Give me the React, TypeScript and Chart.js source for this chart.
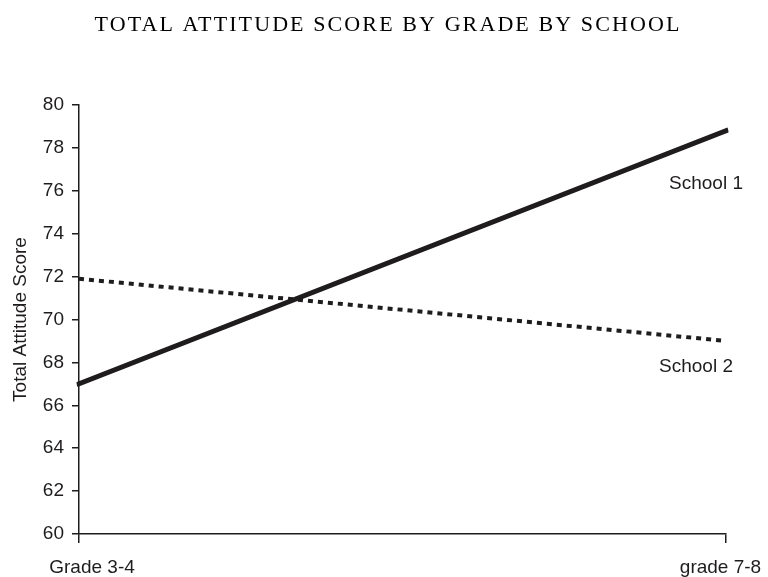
import React, { useEffect, useRef } from "react";
import { Chart, registerables } from "chart.js";

Chart.register(...registerables);

const TITLE = "TOTAL ATTITUDE SCORE BY GRADE BY SCHOOL";
const Y_TITLE = "Total Attitude Score";
const CATEGORIES = ["Grade 3-4", "grade 7-8"];
const SERIES_NAMES = ["School 1", "School 2"];
const SCHOOL1 = [67.0, 78.8];
const SCHOOL2 = [71.9, 69.0];
const Y_MIN = 60;
const Y_MAX = 80;
const Y_STEP = 2;

const INK = "#1f1c1d";
const SANS = "'Liberation Sans', Arial, Helvetica, sans-serif";
const SERIF = "'Liberation Serif', 'Times New Roman', serif";

// label style offsets (relative to the last data point of each series)
const SERIES_LABEL_OFFSETS = [
  { dx: 17, dy: 58 },
  { dx: 7, dy: 31 },
];
// x category label style offsets (relative to the tick pixel)
const X_LABEL_OFFSETS = [13, -5.5];

const textPlugin = {
  id: "customText",
  afterDraw(chart: any) {
    const ctx = chart.ctx as CanvasRenderingContext2D;
    const xScale = chart.scales.x;
    ctx.save();
    // title
    ctx.fillStyle = "#000";
    ctx.font = `22px ${SERIF}`;
    (ctx as any).letterSpacing = "2.1px";
    ctx.textAlign = "center";
    ctx.textBaseline = "alphabetic";
    ctx.fillText(TITLE, 388, 31);
    (ctx as any).letterSpacing = "0px";

    // x category labels
    ctx.fillStyle = INK;
    ctx.font = `19px ${SANS}`;
    ctx.textAlign = "center";
    CATEGORIES.forEach((c, i) => {
      const x = xScale.getPixelForValue(i) + X_LABEL_OFFSETS[i];
      ctx.fillText(c, x, 573);
    });

    // series labels
    ctx.textAlign = "right";
    SERIES_NAMES.forEach((name, i) => {
      const meta = chart.getDatasetMeta(i);
      const pt = meta.data[meta.data.length - 1];
      ctx.fillText(name, pt.x + SERIES_LABEL_OFFSETS[i].dx, pt.y + SERIES_LABEL_OFFSETS[i].dy);
    });
    ctx.restore();
  },
};

export default function App() {
  const ref = useRef<HTMLCanvasElement | null>(null);
  useEffect(() => {
    if (!ref.current) return;
    const chart = new Chart(ref.current, {
      type: "line",
      data: {
        labels: CATEGORIES,
        datasets: [
          {
            label: SERIES_NAMES[0],
            data: SCHOOL1,
            borderColor: INK,
            borderWidth: 5,
            pointRadius: 0,
            borderCapStyle: "square",
            tension: 0,
          },
          {
            label: SERIES_NAMES[1],
            data: SCHOOL2,
            borderColor: INK,
            borderWidth: 4,
            borderDash: [5, 5],
            pointRadius: 0,
            tension: 0,
          },
        ],
      },
      options: {
        animation: false,
        responsive: false,
        layout: { padding: { top: 105, right: 42, left: 0, bottom: 0 } },
        plugins: {
          legend: { display: false },
          title: { display: false },
          tooltip: { enabled: false },
        },
        scales: {
          x: {
            type: "category",
            offset: false,
            grid: {
              display: true,
              drawOnChartArea: false,
              drawTicks: true,
              tickLength: 9,
              color: INK,
              lineWidth: 1.5,
            },
            border: { display: true, color: INK, width: 1.5 },
            ticks: { display: false },
            afterFit: (s: any) => {
              s.height = 43;
            },
          },
          y: {
            min: Y_MIN,
            max: Y_MAX,
            grid: {
              display: true,
              drawOnChartArea: false,
              drawTicks: true,
              tickLength: 7,
              color: INK,
              lineWidth: 1.5,
            },
            border: { display: true, color: INK, width: 1.5 },
            ticks: {
              stepSize: Y_STEP,
              color: INK,
              padding: 8,
              font: { family: SANS, size: 19 },
            },
            title: {
              display: true,
              text: Y_TITLE,
              color: INK,
              font: { family: SANS, size: 19 },
              padding: { top: 9, bottom: 0 },
            },
            afterFit: (s: any) => {
              s.width = 79;
            },
          },
        },
      },
      plugins: [textPlugin],
    });
    return () => chart.destroy();
  }, []);
  return (
    <div style={{ position: "fixed", left: 0, top: 0, width: 768, height: 577, background: "#fff" }}>
      <canvas ref={ref} width={768} height={577} style={{ display: "block" }} />
    </div>
  );
}
